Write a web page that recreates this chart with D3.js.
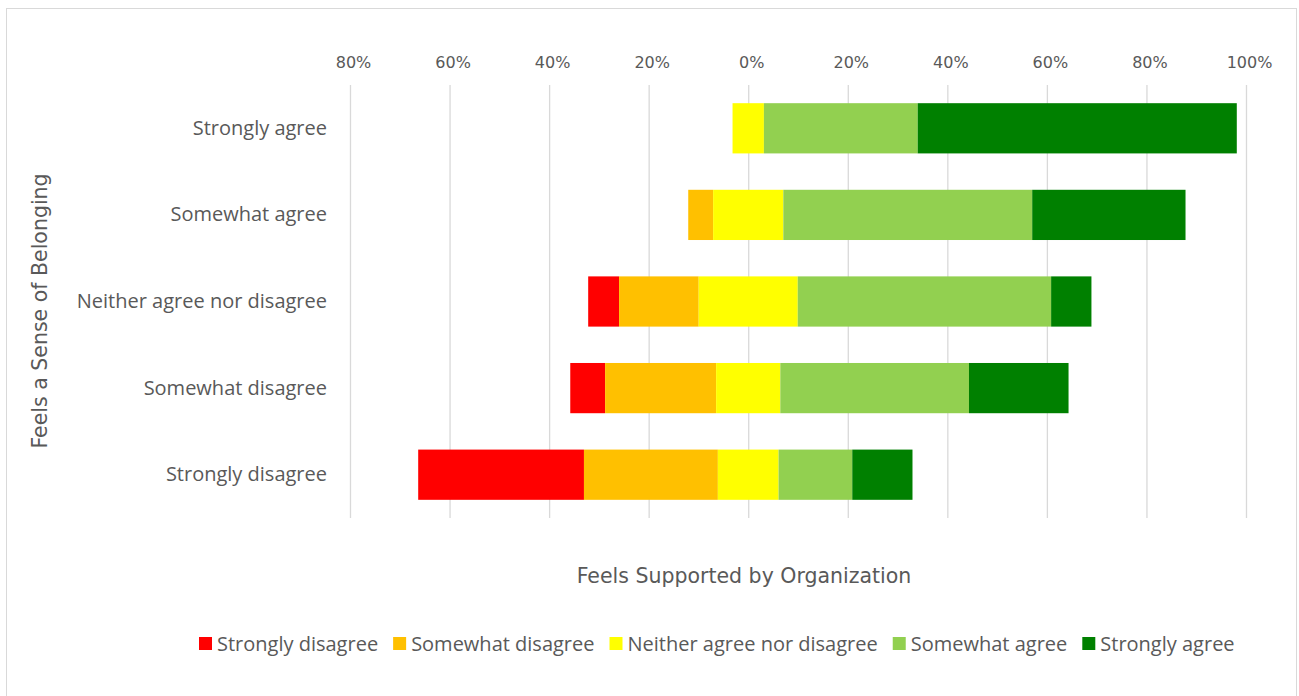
<!DOCTYPE html>
<html>
<head>
<meta charset="utf-8">
<script src="https://cdn.jsdelivr.net/npm/d3@7"></script>
<style>
  body { margin: 0; background: #fff; }
</style>
</head>
<body>
<div id="chart"></div>
<script>
// rows of the chart (y axis) and the answer groups (stack order, left to right)
const categories = ["Strongly agree", "Somewhat agree", "Neither agree nor disagree", "Somewhat disagree", "Strongly disagree"];
const responses = ["Strongly disagree", "Somewhat disagree", "Neither agree nor disagree", "Somewhat agree", "Strongly agree"];
const colors = ["#ff0000", "#ffc000", "#ffff00", "#92d050", "#008000"];

// percent of each row
const stronglyDisagree = [0, 0, 6.2, 7.0, 33.3];
const somewhatDisagree = [0, 5.0, 16.0, 22.3, 26.9];
const neither = [6.3, 14.1, 19.9, 12.9, 12.2];
const somewhatAgree = [30.9, 50.0, 50.9, 37.9, 14.8];
const stronglyAgree = [64.1, 30.8, 8.1, 20.0, 12.1];

const xTicks = [-80, -60, -40, -20, 0, 20, 40, 60, 80, 100];

var table = categories.map(function (c, i) {
  return {
    category: c,
    "Strongly disagree": stronglyDisagree[i],
    "Somewhat disagree": somewhatDisagree[i],
    "Neither agree nor disagree": neither[i],
    "Somewhat agree": somewhatAgree[i],
    "Strongly agree": stronglyAgree[i]
  };
});

var width = 1299, height = 696;
var plot = { left: 350, right: 1246, top: 85, bottom: 518 };
var textColor = "#595959";

var svg = d3.select("#chart").append("svg")
  .attr("width", width)
  .attr("height", height);

// chart border
svg.append("rect")
  .attr("x", 6.5).attr("y", 8.5)
  .attr("width", 1290).attr("height", 700)
  .attr("fill", "none")
  .attr("stroke", "#d9d9d9");

var x = d3.scaleLinear().domain([-80, 100]).range([plot.left, plot.right]);
var y = d3.scaleBand().domain(categories).range([plot.top, plot.bottom])
  .paddingInner(0.42).paddingOuter(0.21);

// top axis + gridlines
var xAxis = svg.append("g")
  .attr("transform", "translate(0," + plot.top + ")")
  .call(d3.axisTop(x).tickValues(xTicks)
    .tickSize(-(plot.bottom - plot.top)).tickSizeOuter(0).tickPadding(17)
    .tickFormat(function (d) { return Math.abs(d) + "%"; }));
xAxis.select(".domain").remove();
xAxis.selectAll("line").attr("stroke", "#d9d9d9").attr("stroke-width", 1.3);
xAxis.selectAll("text")
  .attr("x", 3)
  .attr("fill", textColor)
  .style("font-family", "'DejaVu Sans', Verdana, sans-serif")
  .style("font-size", "16px");

// stack with the neutral group centred on 0
function centerNeutral(series, order) {
  d3.stackOffsetNone(series, order);
  for (var j = 0; j < series[0].length; j++) {
    var mid = (series[2][j][0] + series[2][j][1]) / 2;
    for (var s of series) {
      s[j][0] -= mid;
      s[j][1] -= mid;
    }
  }
}

var stacked = d3.stack().keys(responses).offset(centerNeutral)(table);

svg.append("g")
  .selectAll("g")
  .data(stacked)
  .enter()
  .append("g")
  .attr("fill", function (d, i) { return colors[i]; })
  .selectAll("rect")
  .data(function (d) { return d; })
  .enter()
  .append("rect")
  .attr("x", function (d) { return x(d[0]); })
  .attr("width", function (d) { return x(d[1]) - x(d[0]); })
  .attr("y", function (d) { return y(d.data.category); })
  .attr("height", y.bandwidth());

// category labels
var yAxis = svg.append("g")
  .attr("transform", "translate(" + plot.left + ",0)")
  .call(d3.axisLeft(y).tickSize(0).tickPadding(23));
yAxis.select(".domain").remove();
yAxis.selectAll("text")
  .attr("fill", textColor)
  .style("font-family", "'Open Sans', sans-serif")
  .style("font-size", "20px");

// axis titles
svg.append("text")
  .attr("x", 744).attr("y", 583)
  .attr("text-anchor", "middle")
  .attr("fill", textColor)
  .style("font-family", "'DejaVu Sans', Verdana, sans-serif")
  .style("font-size", "20.5px")
  .text("Feels Supported by Organization");

svg.append("text")
  .attr("transform", "translate(47,311) rotate(-90)")
  .attr("text-anchor", "middle")
  .attr("fill", textColor)
  .style("font-family", "'DejaVu Sans', Verdana, sans-serif")
  .style("font-size", "20.5px")
  .text("Feels a Sense of Belonging");

// legend
var legend = svg.append("g").attr("transform", "translate(199,637)");
var lx = 0;
responses.forEach(function (r, i) {
  var item = legend.append("g").attr("transform", "translate(" + lx + ",0)");
  item.append("rect")
    .attr("width", 13).attr("height", 13)
    .attr("fill", colors[i]);
  var t = item.append("text")
    .attr("x", 18).attr("y", 6.5)
    .attr("dy", "0.35em")
    .attr("fill", textColor)
    .style("font-family", "'Open Sans', sans-serif")
    .style("font-size", "20px")
    .text(r);
  lx += 18 + t.node().getComputedTextLength() + 15;
});
</script>
</body>
</html>
